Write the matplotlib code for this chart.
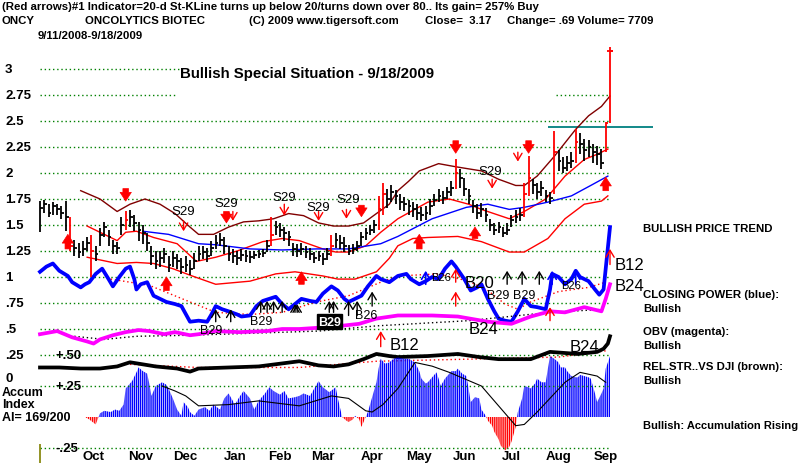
import numpy as np
import pandas as pd
import matplotlib
matplotlib.use("Agg")
import matplotlib.pyplot as plt

plt.rcParams['font.family'] = ['Liberation Sans', 'DejaVu Sans']
plt.rcParams['hatch.linewidth'] = 1.0

# ------------------------------------------------------------------ data
start_date, end_date = '2008-09-11', '2009-09-18'

# price bars (one bar per 2 trading days)
close = [1.66,1.70,1.62,1.68,1.65,1.62,1.58,1.30,1.28,1.24,
         1.27,1.33,1.25,1.22,1.40,1.48,1.38,1.30,1.28,1.50,
         1.55,1.58,1.52,1.45,1.42,1.33,1.20,1.15,1.18,1.22,
         1.12,1.18,1.15,1.10,1.12,1.08,1.15,1.22,1.24,1.20,
         1.28,1.33,1.36,1.30,1.22,1.20,1.18,1.21,1.20,1.19,
         1.21,1.22,1.23,1.30,1.40,1.48,1.45,1.42,1.38,1.27,
         1.25,1.27,1.24,1.22,1.18,1.20,1.17,1.22,1.30,1.36,
         1.33,1.30,1.25,1.27,1.30,1.38,1.42,1.45,1.50,1.65,
         1.80,1.75,1.82,1.78,1.72,1.70,1.68,1.65,1.62,1.60,
         1.62,1.68,1.74,1.78,1.76,1.82,1.86,2.00,1.95,1.85,
         1.78,1.68,1.62,1.65,1.60,1.50,1.45,1.48,1.42,1.45,
         1.55,1.58,1.60,1.80,1.95,1.88,1.82,1.86,1.78,1.76,
         2.20,2.12,2.05,2.10,2.12,2.30,2.28,2.22,2.25,2.20,
         2.18,2.10,2.48,3.17]
high = [1.73,1.74,1.70,1.72,1.70,1.68,1.73,1.58,1.36,1.33,
        1.35,1.38,1.40,1.30,1.47,1.53,1.45,1.36,1.34,1.58,
        1.63,1.64,1.60,1.53,1.50,1.42,1.30,1.25,1.25,1.28,
        1.20,1.25,1.22,1.18,1.20,1.16,1.23,1.30,1.30,1.28,
        1.35,1.40,1.42,1.38,1.30,1.27,1.25,1.27,1.26,1.25,
        1.25,1.26,1.27,1.36,1.58,1.54,1.52,1.48,1.44,1.33,
        1.32,1.33,1.30,1.28,1.24,1.25,1.23,1.28,1.40,1.42,
        1.40,1.38,1.31,1.32,1.35,1.43,1.47,1.50,1.55,1.78,
        1.90,1.85,1.88,1.84,1.80,1.77,1.74,1.72,1.70,1.67,
        1.68,1.75,1.80,1.85,1.83,1.87,1.92,2.13,2.04,1.95,
        1.85,1.74,1.70,1.71,1.66,1.56,1.52,1.53,1.48,1.52,
        1.60,1.64,1.66,1.90,2.16,1.94,1.90,1.92,1.84,1.82,
        2.40,2.22,2.15,2.16,2.20,2.42,2.38,2.33,2.32,2.28,
        2.26,2.23,2.49,3.21]
low = [1.43,1.62,1.58,1.60,1.60,1.56,1.44,1.25,1.20,1.18,
       1.20,1.25,1.00,1.15,1.30,1.38,1.30,1.22,1.22,1.40,
       1.45,1.48,1.44,1.35,1.32,1.25,1.12,1.08,1.10,1.13,
       1.05,1.10,1.08,1.03,1.05,1.02,1.08,1.15,1.17,1.14,
       1.20,1.27,1.30,1.22,1.15,1.13,1.12,1.15,1.14,1.13,
       1.17,1.18,1.19,1.24,1.30,1.40,1.38,1.35,1.30,1.20,
       1.19,1.21,1.18,1.16,1.13,1.15,1.12,1.16,1.20,1.28,
       1.27,1.24,1.21,1.22,1.25,1.30,1.36,1.40,1.42,1.45,
       1.60,1.66,1.72,1.70,1.64,1.63,1.60,1.58,1.55,1.54,
       1.55,1.60,1.68,1.72,1.70,1.75,1.78,1.85,1.86,1.78,
       1.70,1.62,1.56,1.58,1.53,1.44,1.40,1.42,1.38,1.40,
       1.48,1.52,1.54,1.58,1.78,1.80,1.75,1.78,1.72,1.70,
       1.80,2.02,2.00,2.02,2.05,2.10,2.18,2.12,2.15,2.10,
       2.08,2.04,2.20,2.48]
red_bars = [7, 12, 20, 54, 68, 79, 80, 97, 113, 114, 120, 125, 132, 133]

# bands / averages  (trading-day index, value)
upper_day = [19,28,36,42,49,56,63,70,74,81,88,95,102,109,116,123,130,137,144,151,
             157,163,167,172,177,186,194,200,206,214,222,226,232,240,250,256,262,266]
upper_val = [1.83,1.75,1.63,1.70,1.75,1.70,1.61,1.48,1.41,1.41,1.48,1.53,1.54,1.56,1.61,1.59,
             1.52,1.49,1.49,1.52,1.61,1.70,1.83,1.92,2.02,2.09,2.06,2.04,2.02,1.94,1.88,1.88,
             1.97,2.16,2.42,2.55,2.64,2.74]
mid_day = [22,28,36,40,45,53,64,73,82,92,104,113,121,132,138,144,152,159,167,181,191,200,
           206,219,226,236,245,254,260,265]
mid_val = [1.49,1.43,1.35,1.43,1.44,1.38,1.32,1.15,1.19,1.25,1.34,1.37,1.35,1.27,1.24,1.24,
           1.30,1.43,1.56,1.72,1.75,1.70,1.65,1.56,1.63,1.75,1.97,2.13,2.18,2.23]
lower_day = [22,36,45,53,62,71,82,98,110,119,132,139,147,157,163,167,174,181,195,206,
             219,226,237,245,254,262,265]
lower_val = [1.19,1.13,1.14,1.13,1.08,1.01,0.93,0.96,1.03,1.05,1.01,0.98,0.98,1.05,1.18,
             1.30,1.37,1.38,1.39,1.34,1.24,1.24,1.37,1.56,1.70,1.73,1.78]
ma50_day = [48,60,74,82,98,113,129,144,159,167,183,199,209,219,226,237,248,257,265]
ma50_val = [1.44,1.41,1.32,1.31,1.27,1.26,1.27,1.27,1.32,1.39,1.56,1.67,1.70,1.65,1.67,
            1.72,1.78,1.88,1.97]

# closing power (blue)
cp_day = [0,3,6,9,13,15,19,21,23,26,29,32,34,37,40,42,44,45,47,50,53,56,59,63,66,70,74,78,
          80,82,85,88,92,94,98,101,104,107,110,113,116,119,122,126,129,132,136,139,142,144,
          147,150,153,157,159,163,165,167,171,173,177,180,183,186,189,192,194,198,201,204,
          206,209,212,214,217,220,223,226,229,232,236,238,239,242,245,248,250,252,256,259,
          261,263,264,266]
cp_val = [1.05,1.10,1.13,1.06,1.01,0.95,0.90,0.93,0.95,1.03,1.08,0.98,0.91,1.00,1.08,1.10,
          0.98,0.88,0.93,0.95,0.82,0.79,0.76,0.74,0.72,0.57,0.58,0.57,0.64,0.72,0.69,0.67,
          0.64,0.62,0.63,0.72,0.77,0.79,0.81,0.74,0.69,0.74,0.79,0.77,0.76,0.84,0.91,0.87,
          0.79,0.76,0.79,0.82,0.91,1.01,0.98,0.95,0.98,1.01,1.03,0.98,0.93,0.96,1.00,0.98,
          1.08,1.15,1.10,0.98,0.87,0.90,0.93,0.79,0.67,0.60,0.58,0.57,0.67,0.79,0.72,0.71,
          0.69,0.88,1.03,1.00,0.93,0.98,1.06,1.00,0.96,0.88,0.83,0.88,1.08,1.48]
cpma_day = [33,51,70,82,98,113,129,144,159,167,186,200,209,217,223,229,242,256,264]
cpma_val = [0.98,0.92,0.76,0.66,0.64,0.66,0.76,0.82,0.95,1.01,1.03,0.96,0.87,0.74,0.69,
            0.76,0.86,0.90,0.95]

# OBV (magenta)
obv_day = [0,8,15,22,25,28,34,40,46,51,58,63,70,74,82,93,106,113,121,136,149,157,167,183,
           195,209,220,229,238,245,254,262,264,266]
obv_val = [0.45,0.48,0.42,0.38,0.36,0.40,0.44,0.47,0.49,0.48,0.45,0.47,0.44,0.45,0.48,0.47,
           0.48,0.50,0.50,0.52,0.55,0.60,0.63,0.63,0.62,0.57,0.55,0.62,0.67,0.66,0.71,0.67,
           0.79,0.93]
obvma_day = [16,30,45,70,100,130,157,200,238,264]
obvma_val = [0.43,0.40,0.43,0.44,0.46,0.48,0.53,0.58,0.66,0.69]

# relative strength vs DJI (black)
rs_day = [0,9,19,28,36,42,48,54,64,70,74,88,102,121,130,137,144,151,157,163,167,181,195,
          205,214,229,238,251,260,263,265,266]
rs_val = [0.13,0.13,0.12,0.12,0.14,0.18,0.16,0.14,0.12,0.09,0.12,0.13,0.14,0.19,0.15,0.14,
          0.16,0.21,0.26,0.24,0.23,0.24,0.26,0.23,0.21,0.21,0.28,0.26,0.28,0.31,0.36,0.43]
rsma_day = [42,74,121,157,200,242,264]
rsma_val = [0.16,0.13,0.13,0.19,0.21,0.23,0.29]

# accumulation index
acc_day = [21,23,26,28,30,33,35,37,39,40,43,45,46,48,50,51,52,54,57,59,60,62,64,66,67,69,
           70,72,74,77,79,81,84,86,88,91,93,95,98,100,102,105,107,109,112,114,116,119,121,
           123,126,128,130,132,135,138,139,141,143,144,146,147,149,150,152,153,155,157,158,
           159,161,163,165,167,170,172,175,177,178,180,181,183,185,186,187,189,191,192,194,
           195,197,199,200,201,203,205,206,208,209,211,212,214,215,217,219,220,222,223,225,
           226,228,229,231,232,234,236,237,238,240,242,243,245,246,248,250,251,252,254,256,
           257,259,260,262,263,264,266]
acc_val = [0.00,-0.02,-0.06,0.03,0.05,0.04,0.06,0.05,0.10,0.23,0.29,0.36,0.40,0.37,0.35,
           0.27,0.17,0.25,0.28,0.26,0.23,0.15,0.06,0.01,0.12,0.08,0.04,0.01,0.06,0.08,0.05,
           0.10,0.06,0.15,0.19,0.10,0.16,0.21,0.15,0.06,0.13,0.19,0.24,0.21,0.18,0.21,0.15,
           0.16,0.17,0.19,0.17,0.23,0.29,0.24,0.20,0.24,0.15,0.00,-0.03,-0.04,-0.02,0.01,
           -0.02,-0.08,0.00,0.04,0.16,0.28,0.39,0.47,0.43,0.44,0.47,0.48,0.47,0.47,0.44,0.37,
           0.31,0.27,0.28,0.32,0.36,0.31,0.25,0.31,0.35,0.37,0.37,0.39,0.35,0.33,0.23,0.12,
           0.16,0.15,0.06,0.01,-0.03,-0.07,-0.12,-0.18,-0.23,-0.27,-0.24,-0.20,-0.08,0.04,
           0.15,0.25,0.24,0.23,0.27,0.31,0.28,0.28,0.39,0.49,0.47,0.44,0.40,0.40,0.37,0.33,
           0.32,0.32,0.34,0.33,0.32,0.31,0.19,0.12,0.19,0.23,0.39,0.49]
accma_day = [57,63,68,74,88,102,121,136,144,152,155,160,167,175,183,191,206,214,222,226,
             232,245,252,260,264]
accma_val = [0.25,0.21,0.17,0.09,0.10,0.13,0.09,0.17,0.15,0.05,0.04,0.10,0.23,0.44,0.41,
             0.36,0.25,0.09,-0.07,-0.06,0.04,0.28,0.36,0.33,0.28]

# signal arrows
sell_big_day = [40, 87, 150, 194, 228]
sell_big_top = [1.85, 1.63, 1.69, 2.31, 2.31]
sell_big_tip = [1.73, 1.52, 1.58, 2.19, 2.19]
sell_thin_day = [67, 90, 114, 130, 143, 211, 223]
sell_thin_top = [1.54, 1.63, 1.70, 1.63, 1.65, 1.94, 2.20]
sell_thin_tip = [1.44, 1.54, 1.59, 1.54, 1.56, 1.85, 2.11]
s29_day = [67, 87, 114, 130, 144, 210]
s29_val = [1.63, 1.71, 1.77, 1.67, 1.75, 2.02]
buy_big_day = [13, 59, 122, 177, 203, 264]
buy_big_base = [1.27, 0.87, 0.93, 1.27, 1.37, 1.83]
buy_big_tip = [1.41, 1.00, 1.05, 1.41, 1.48, 1.96]
buy_red_day = [159, 194, 194, 238, 266]
buy_red_base = [0.33, 0.72, 0.95, 0.58, 1.12]
buy_red_tip = [0.48, 0.86, 1.08, 0.71, 1.27]
buy_blk_day = [82, 89, 103, 106, 109, 113, 119, 120, 135, 137, 144, 148, 155, 218, 225, 233]
buy_blk_base = [0.57,0.57,0.66,0.66,0.66,0.66,0.66,0.66,0.66,0.66,0.63,0.63,0.72,0.93,0.93,0.93]
buy_blk_tip = [0.69,0.69,0.77,0.77,0.77,0.77,0.74,0.74,0.77,0.77,0.77,0.77,0.86,1.06,1.06,1.06]
buy_blue_day = [180, 239, 250]
buy_blue_base = [0.93, 0.93, 0.93]
buy_blue_tip = [1.06, 1.06, 1.06]

blab_text = ['B29','B29','B29','B26','B26','B20','B29','B29','B26','B24','B12','B24','B12','B24']
blab_day = [80, 103, 135, 152, 187, 205, 214, 226, 248, 207, 170, 254, 268, 268]
blab_val = [0.49, 0.58, 0.57, 0.63, 1.00, 0.95, 0.83, 0.83, 0.92, 0.50, 0.35, 0.33, 1.12, 0.92]
blab_size = [9, 9, 9, 9, 8, 12, 9, 9, 8, 12, 12, 12, 12, 12]

price_levels = [3, 2.75, 2.5, 2.25, 2, 1.75, 1.5, 1.25, 1, .75, .5, .25, 0]
price_labels = ['3', '2.75', '2.5', '2.25', '2', '1.75', '1.5', '1.25', '1', '.75', '.5', '.25', '0']
months = ['Oct', 'Nov', 'Dec', 'Jan', 'Feb', 'Mar', 'Apr', 'May', 'Jun', 'Jul', 'Aug', 'Sep']
month_mid = ['2008-10-16', '2008-11-16', '2008-12-16', '2009-01-16', '2009-02-16', '2009-03-16',
             '2009-04-16', '2009-05-16', '2009-06-16', '2009-07-16', '2009-08-16', '2009-09-16']

# ------------------------------------------------------------------ figure
W, H = 800, 464
fig = plt.figure(figsize=(W / 100, H / 100), dpi=100)
ax = fig.add_axes([0, 0, 1, 1])
ax.axis('off')
ax2 = ax.twinx()
ax2.axis('off')

days = pd.bdate_range(start_date, end_date)
last = len(days) - 1
ppd = 570 / last                      # pixels per trading day
ax.set_xlim(-40 / ppd, last + 190 / ppd)
ax.set_ylim(-82 / 104, 382 / 104)      # price scale
ax2.set_ylim(-46 / 124, 418 / 124)     # accumulation scale

def fy(ypix):
    return 1 - ypix / H

# grid
green = '#008000'
dot = (0, (1, 2))
for lev in price_levels[:-1]:
    if lev == 3:
        ax.hlines(lev, 0, 65, colors=green, linestyles=dot, lw=1)
    elif lev == 2.75:
        ax.hlines(lev, 0, 64, colors=green, linestyles=dot, lw=1)
        ax.hlines(lev, 241, last, colors=green, linestyles=dot, lw=1)
    else:
        ax.hlines(lev, 0, last, colors=green, linestyles=dot, lw=1)
ax2.hlines([0.25, -0.25], 0, last, colors=green, linestyles=dot, lw=1)

# teal resistance line
ax.hlines(2.44, 237, 286, colors='#008080', lw=1.3)

# accumulation histogram
ad = np.array(acc_day, float)
av = np.array(acc_val, float)
ax2.fill_between(ad, 0, av, where=av >= 0, interpolate=True, facecolor='none',
                 edgecolor='#0000ff', hatch='|' * 8, lw=0)
ax2.fill_between(ad, 0, av, where=av <= 0, interpolate=True, facecolor='none',
                 edgecolor='#ff0000', hatch='|' * 8, lw=0)
ax2.plot(accma_day, accma_val, color='black', lw=0.8)

# bands
ax.plot(upper_day, upper_val, color='#800000', lw=1)
ax.plot(mid_day, mid_val, color='#ff0000', lw=1)
ax.plot(lower_day, lower_val, color='#ff0000', lw=1)
ax.plot(ma50_day, ma50_val, color='#0000ff', lw=1)

# indicators
ax.plot(cpma_day, cpma_val, color='#ff0000', lw=1, ls=(0, (1, 2)))
ax.plot(cp_day, cp_val, color='#0000ff', lw=2.7, solid_joinstyle='round')
ax.plot(obvma_day, obvma_val, color='black', lw=1, ls=(0, (1, 2)))
ax.plot(obv_day, obv_val, color='#ff00ff', lw=2.7)
ax.plot(rsma_day, rsma_val, color='#ff0000', lw=1, ls=(0, (1, 2)))
ax.plot(rs_day, rs_val, color='black', lw=2.7)

# price bars
bx = np.arange(len(close)) * 2
cols = ['#ff0000' if i in red_bars else 'black' for i in range(len(close))]
ax.vlines(bx, low, high, colors=cols, lw=1.3)
ax.hlines(close, bx, bx + 1.3, colors=cols, lw=1.3)
ax.hlines(close[-1], bx[-1] - 1.3, bx[-1] + 1.3, colors='#ff0000', lw=1.3)

# arrows
def arrow(x, y0, y1, style, color, lw=1.0, ms=8):
    ax.annotate('', xy=(x, y1), xytext=(x, y0),
                arrowprops=dict(arrowstyle=style, color=color, lw=lw,
                                shrinkA=0, shrinkB=0, mutation_scale=ms))

big = 'simple,head_width=0.9,head_length=0.7,tail_width=0.45'
thin = '->,head_width=0.3,head_length=0.5'
for d, a, b in zip(sell_big_day, sell_big_top, sell_big_tip):
    arrow(d, a, b, big, '#ff0000', lw=0.5, ms=9)
for d, a, b in zip(sell_thin_day, sell_thin_top, sell_thin_tip):
    arrow(d, a, b, thin, '#ff0000', lw=1, ms=10)
for d, a, b in zip(buy_big_day, buy_big_base, buy_big_tip):
    arrow(d, a, b, big, '#ff0000', lw=0.5, ms=9)
for d, a, b in zip(buy_red_day, buy_red_base, buy_red_tip):
    arrow(d, a, b, thin, '#ff0000', lw=1, ms=10)
for d, a, b in zip(buy_blk_day, buy_blk_base, buy_blk_tip):
    arrow(d, a, b, thin, 'black', lw=1, ms=10)
for d, a, b in zip(buy_blue_day, buy_blue_base, buy_blue_tip):
    arrow(d, a, b, thin, '#0000ff', lw=1.2, ms=10)

for d, v in zip(s29_day, s29_val):
    ax.text(d, v, 'S29', ha='center', va='center', fontsize=9.5, color='black')
for i, (t, d, v, s) in enumerate(zip(blab_text, blab_day, blab_val, blab_size)):
    ha = 'left' if d > last else 'center'
    if i == 2:
        ax.text(d, v, t, ha=ha, va='center', fontsize=s, color='white', fontweight='bold',
                bbox=dict(boxstyle='square,pad=0.1', fc='black', ec='black'))
    else:
        ax.text(d, v, t, ha=ha, va='center', fontsize=s, color='black')

# left scale labels
yt = ax.get_yaxis_transform()
for lev, lab in zip(price_levels, price_labels):
    ypos = lev + 0.025 if lev == 0 else lev
    ax.text(5 / W, ypos, lab, transform=yt, ha='left', va='center', fontsize=9.5,
            fontweight='bold')
yt2 = ax2.get_yaxis_transform()
ax2.text(55 / W, 0.5, '+.50', transform=yt2, ha='left', va='center', fontsize=9.5,
         fontweight='bold')
ax2.text(55 / W, 0.25, '+.25', transform=yt2, ha='left', va='center', fontsize=9.5,
         fontweight='bold')
ax2.text(55 / W, -0.25, '-.25', transform=yt2, ha='left', va='center', fontsize=9.5,
         fontweight='bold')
ax2.vlines(0, -0.37, -0.22, colors='#808000', lw=1.2)

# month labels
for m, md in zip(months, month_mid):
    xi = days.searchsorted(pd.Timestamp(md))
    ax2.text(xi, -0.315, m, ha='center', va='center', fontsize=9.5, fontweight='bold')

# header
hb = dict(fontsize=8.2, fontweight='bold', va='center', ha='left')
fig.text(2 / W, fy(7), "(Red arrows)#1 Indicator=20-d St-KLine turns up below 20/turns down over 80.. Its gain= 257% Buy", **hb)
fig.text(2 / W, fy(21), "ONCY", **hb)
fig.text(85 / W, fy(21), "ONCOLYTICS BIOTEC", **hb)
fig.text(249 / W, fy(21), "(C) 2009 www.tigersoft.com", **hb)
fig.text(425 / W, fy(21), "Close=  3.17", **hb)
fig.text(507 / W, fy(21), "Change= .69 Volume= 7709", **hb)
fig.text(38 / W, fy(36), "9/11/2008-9/18/2009", **hb)
fig.text(180 / W, fy(74), "Bullish Special Situation - 9/18/2009", fontsize=10.8,
         fontweight='bold', va='center', ha='left')

# right-hand comments
rb = dict(fontsize=8.2, fontweight='bold', va='center', ha='left')
for txt, yy in [("BULLISH PRICE TREND", 229), ("CLOSING POWER (blue):", 295), ("Bullish", 309),
                ("OBV (magenta):", 332), ("Bullish", 346), ("REL.STR..VS DJI (brown):", 367),
                ("Bullish", 381)]:
    fig.text(643 / W, fy(yy), txt, **rb)
fig.text(643 / W, fy(426), "Bullish: Accumulation Rising", fontsize=8.0, fontweight='bold',
         va='center', ha='left')

# accumulation caption
for txt, yy in [("Accum", 393), ("Index", 405), ("AI= 169/200", 418)]:
    fig.text(2 / W, fy(yy), txt, fontsize=9, fontweight='bold', va='center', ha='left')

fig.savefig('out.png', dpi=100)
